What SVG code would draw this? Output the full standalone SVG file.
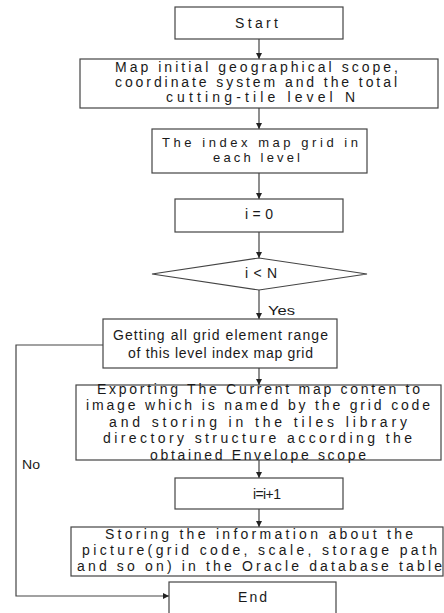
<svg xmlns="http://www.w3.org/2000/svg" width="444" height="613" viewBox="0 0 444 613">
<style>
.box{fill:#fff;stroke:#444;stroke-width:1.2}
.t{font-family:"Liberation Sans",Arial,sans-serif;font-size:14px;fill:#1a1a1a}
.s{font-family:"Liberation Sans",Arial,sans-serif;font-size:13px;fill:#1a1a1a}
.c{fill:none;stroke:#444;stroke-width:1.2}
</style>
<defs>
<marker id="ah" viewBox="0 0 10 10" refX="10" refY="5" markerWidth="6" markerHeight="6" markerUnits="userSpaceOnUse" orient="auto">
<path d="M0,0 L10,5 L0,10 z" fill="#222"/>
</marker>
</defs>
<rect width="444" height="613" fill="#fff"/>
<g id="connectors">
<line class="c" x1="259" y1="39" x2="259" y2="59" marker-end="url(#ah)"/>
<line class="c" x1="259" y1="108" x2="259" y2="129" marker-end="url(#ah)"/>
<line class="c" x1="259" y1="173" x2="259" y2="199" marker-end="url(#ah)"/>
<line class="c" x1="259" y1="232" x2="259" y2="258" marker-end="url(#ah)"/>
<line class="c" x1="259" y1="290" x2="259" y2="319" marker-end="url(#ah)"/>
<line class="c" x1="259" y1="368" x2="259" y2="385" marker-end="url(#ah)"/>
<line class="c" x1="259" y1="460" x2="259" y2="478" marker-end="url(#ah)"/>
<line class="c" x1="259" y1="509" x2="259" y2="527" marker-end="url(#ah)"/>
<polyline class="c" points="103,345 16,345 16,596 169,596" marker-end="url(#ah)"/>
<text class="s" x="268" y="315" textLength="27" lengthAdjust="spacingAndGlyphs">Yes</text>
<text class="s" x="22" y="469" textLength="18" lengthAdjust="spacingAndGlyphs">No</text>
</g>
<g id="start">
<rect class="box" x="175" y="7" width="168" height="32"/>
<text class="t" x="235" y="28" textLength="43" lengthAdjust="spacing">Start</text>
</g>
<g id="init">
<rect class="box" x="80" y="59" width="358" height="49"/>
<text class="t" x="115" y="72" textLength="283" lengthAdjust="spacing">Map initial geographical scope,</text>
<text class="t" x="115" y="87" textLength="282" lengthAdjust="spacing">coordinate system and the total</text>
<text class="t" x="166" y="102" textLength="189" lengthAdjust="spacing">cutting-tile level N</text>
</g>
<g id="indexgrid">
<rect class="box" x="152" y="129" width="215" height="44"/>
<text class="s" x="162" y="147" textLength="196" lengthAdjust="spacing">The index map grid in</text>
<text class="s" x="213" y="161.5" textLength="87" lengthAdjust="spacing">each level</text>
</g>
<g id="i0">
<rect class="box" x="175" y="199" width="168" height="33"/>
<text class="t" x="245" y="219" textLength="28" lengthAdjust="spacing">i=0</text>
</g>
<g id="cond">
<polygon class="box" points="152,274 259,258 367,274 259,290"/>
<text class="t" x="245" y="278" textLength="32" lengthAdjust="spacing">i&lt;N</text>
</g>
<g id="getting">
<rect class="box" x="103" y="319" width="234" height="49"/>
<text class="t" x="113" y="340" textLength="215" lengthAdjust="spacing">Getting all grid element range</text>
<text class="t" x="128" y="358" textLength="185" lengthAdjust="spacing">of this level index map grid</text>
</g>
<g id="exporting">
<rect class="box" x="76" y="385" width="365" height="75"/>
<text class="t" x="97" y="394" textLength="323" lengthAdjust="spacing">Exporting The Current map conten to</text>
<text class="t" x="86" y="410" textLength="344" lengthAdjust="spacing">image which is named by the grid code</text>
<text class="t" x="109" y="427" textLength="298" lengthAdjust="spacing">and storing in the tiles library</text>
<text class="t" x="103" y="443" textLength="309" lengthAdjust="spacing">directory structure according the</text>
<text class="t" x="150" y="460" textLength="216" lengthAdjust="spacing">obtained Envelope scope</text>
</g>
<g id="inc">
<rect class="box" x="175" y="478" width="168" height="31"/>
<text class="t" x="253" y="499" textLength="28" lengthAdjust="spacing">i=i+1</text>
</g>
<g id="storing">
<rect class="box" x="71" y="527" width="372" height="49"/>
<text class="t" x="105" y="539" textLength="308" lengthAdjust="spacing">Storing the information about the</text>
<text class="t" x="82" y="555" textLength="355" lengthAdjust="spacing">picture(grid code, scale, storage path</text>
<text class="t" x="77" y="571" textLength="365" lengthAdjust="spacing">and so on) in the Oracle database table</text>
</g>
<g id="end">
<rect class="box" x="169" y="582" width="167" height="40"/>
<text class="t" x="238" y="602" textLength="29" lengthAdjust="spacing">End</text>
</g>
</svg>
